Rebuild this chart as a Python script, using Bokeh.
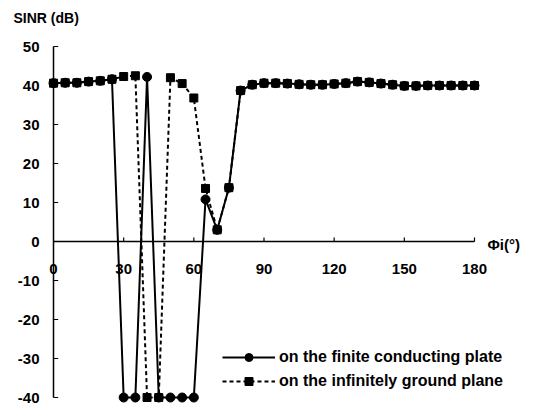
from bokeh.plotting import figure
from bokeh.models import Range1d, ColumnDataSource
from bokeh.core.properties import value
from bokeh.embed import file_html
from bokeh.resources import INLINE

# ---- data ----
angles = list(range(0, 185, 5))
finite_plate = [40.6, 40.7, 40.7, 41.0, 41.2, 41.6, -40.0, -40.0, 42.2, -40.0,
                -40.0, -40.0, -40.0, 10.8, 3.0, 13.8, 38.7, 40.2, 40.6, 40.6,
                40.5, 40.3, 40.2, 40.2, 40.4, 40.6, 41.0, 40.8, 40.5, 40.2,
                39.9, 39.9, 40.0, 40.0, 40.0, 40.0, 40.0]
infinite_plane = [40.6, 40.7, 40.7, 41.0, 41.2, 41.6, 42.3, 42.5, -40.0, -40.0,
                  42.0, 40.5, 36.8, 13.6, 3.0, 13.8, 38.7, 40.2, 40.6, 40.6,
                  40.5, 40.3, 40.2, 40.2, 40.4, 40.6, 41.0, 40.8, 40.5, 40.2,
                  39.9, 39.9, 40.0, 40.0, 40.0, 40.0, 40.0]
x_ticks = [0, 30, 60, 90, 120, 150, 180]
x_tick_labels = [str(t) for t in x_ticks]
y_ticks = [-40, -30, -20, -10, 0, 10, 20, 30, 40, 50]
y_tick_labels = [str(t) for t in y_ticks]
label_finite = "on the finite conducting plate"
label_infinite = "on the infinitely ground plane"
y_title = "SINR (dB)"
x_title = "Φi(°)"

# ---- layout (canvas pixels) ----
W, H = 530, 405
X0_PX, X180_PX = 53, 474       # canvas x of 0 and 180 degrees
Y50_PX, YM40_PX = 46, 397       # canvas y of 50 and -40 dB
sx = (X180_PX - X0_PX) / 180.0
sy = (YM40_PX - Y50_PX) / 90.0
x_lo = 0 - X0_PX / sx
x_hi = 0 + (W - X0_PX) / sx
y_hi = 50 + Y50_PX / sy
y_lo = -40 - (H - YM40_PX) / sy

p = figure(width=W, height=H, output_backend="svg", toolbar_location=None,
           x_axis_location=None, y_axis_location=None,
           x_range=Range1d(x_lo, x_hi), y_range=Range1d(y_lo, y_hi),
           min_border=0, min_border_left=0, min_border_right=0,
           min_border_top=0, min_border_bottom=0)
p.outline_line_color = None
p.grid.visible = False
p.background_fill_color = "white"
p.border_fill_color = "white"

FONT = value("Liberation Sans")

# axes
p.segment(x0=[0], y0=[y_ticks[0]], x1=[0], y1=[y_ticks[-1]], line_color="black", line_width=1.5)
p.segment(x0=[x_ticks[0]], y0=[0], x1=[x_ticks[-1]], y1=[0], line_color="black", line_width=1.5)
p.segment(x0=[0] * len(y_ticks), y0=y_ticks, x1=[2] * len(y_ticks), y1=y_ticks,
          line_color="black", line_width=1.2)
p.segment(x0=x_ticks[1:], y0=[0] * (len(x_ticks) - 1), x1=x_ticks[1:], y1=[1.0] * (len(x_ticks) - 1),
          line_color="black", line_width=1.2)

p.text(x=[0] * len(y_ticks), y=y_ticks, text=y_tick_labels, x_offset=-14,
       text_align="right", text_baseline="middle", text_font=FONT,
       text_font_style="bold", text_font_size="15px", text_color="black")
p.text(x=x_ticks, y=[0] * len(x_ticks), text=x_tick_labels, y_offset=27,
       text_align="center", text_baseline="middle", text_font=FONT,
       text_font_style="bold", text_font_size="15px", text_color="black")
p.text(x=[0], y=[50], text=[y_title], x_offset=-40, y_offset=-29,
       text_align="left", text_baseline="middle", text_font=FONT,
       text_font_style="bold", text_font_size="14px", text_color="black")
p.text(x=[x_ticks[-1]], y=[0], text=[x_title], x_offset=13, y_offset=3,
       text_align="left", text_baseline="middle", text_font=FONT,
       text_font_style="bold", text_font_size="15px", text_color="black")

# series
src = ColumnDataSource(dict(x=angles, f=finite_plate, i=infinite_plane))
p.line("x", "f", source=src, line_color="black", line_width=2, legend_label=label_finite)
p.line("x", "i", source=src, line_color="black", line_width=2, line_dash="4 3",
       legend_label=label_infinite)
p.scatter("x", "f", source=src, marker="circle", size=9, fill_color="black",
          line_color="black", legend_label=label_finite)
p.scatter("x", "i", source=src, marker="square", size=8, fill_color="black",
          line_color="black", legend_label=label_infinite)

lg = p.legend[0]
lg.location = (222, 14)
lg.padding = 0
lg.margin = 0
lg.spacing = 4
lg.border_line_alpha = 0
lg.background_fill_alpha = 0
lg.glyph_width = 53
lg.glyph_height = 20
lg.label_height = 20
lg.label_standoff = 4
lg.label_text_font = "Liberation Sans"
lg.label_text_font_style = "bold"
lg.label_text_font_size = "16px"
lg.label_text_color = "black"

open("out.html", "w").write(file_html(p, INLINE))
